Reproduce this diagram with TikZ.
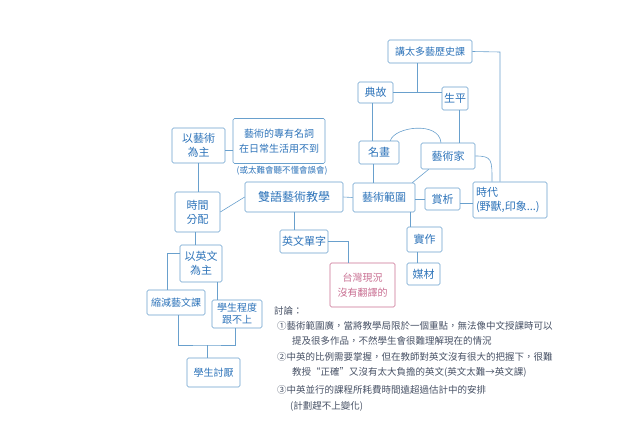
\documentclass[tikz,border=0pt]{standalone}
\usepackage{fontspec}
\newfontfamily\cjk{Noto Sans CJK TC}
\definecolor{linec}{RGB}{105,160,205}
\definecolor{inkc}{RGB}{45,115,185}
\definecolor{pinkc}{RGB}{200,110,145}
\definecolor{notec}{RGB}{70,80,100}
\tikzset{
  box/.style={draw=linec, line width=0.6pt, rounded corners=1.5pt, text=inkc, inner sep=1pt, align=center, font=\cjk\fontsize{11}{14}\selectfont},
  pinkbox/.style={box, draw=pinkc, text=pinkc},
  conn/.style={draw=linec, line width=0.6pt},
  note/.style={anchor=west, text=notec, inner sep=0pt, font=\cjk\fontsize{9.5}{11}\selectfont},
}
\begin{document}
\begin{tikzpicture}[x=1pt,y=-1pt]
\useasboundingbox (0,0) rectangle (626,447);
% nodes
\node[box, minimum width=84, minimum height=23, font=\cjk\fontsize{10}{12}\selectfont] (top) at (430,51.5) {講太多藝歷史課};
\node[box, minimum width=35, minimum height=21] (diangu) at (375.5,92.5) {典故};
\node[box, minimum width=26, minimum height=23] (sheng) at (455,98.5) {生平};
\node[box, minimum width=40, minimum height=23] (ming) at (379,152.5) {名畫};
\node[box, minimum width=54, minimum height=26] (artist) at (448,156) {藝術家};
\node[box, minimum width=62, minimum height=29] (scope) at (384,197.5) {藝術範圍};
\node[box, minimum width=35, minimum height=22] (appre) at (442.5,199) {賞析};
\node[box, minimum width=74, minimum height=36, align=left, text width=68] (era) at (510,200) {時代\\(野獸,印象...)};
\node[box, minimum width=35, minimum height=25] (prac) at (424.5,239.5) {實作};
\node[box, minimum width=33, minimum height=22] (media) at (423.5,274) {媒材};
\node[box, minimum width=98, minimum height=30, font=\cjk\fontsize{12}{14}\selectfont] (bi) at (294,197) {雙語藝術教學};
\node[box, minimum width=48, minimum height=23] (vocab) at (304,241.5) {英文單字};
\node[pinkbox, minimum width=65, minimum height=44, font=\cjk\fontsize{10}{15}\selectfont] (pink) at (362.5,285) {台灣現況\\沒有翻譯的};
\node[box, minimum width=53, minimum height=35] (artmain) at (198.5,145.5) {以藝術\\為主};
\node[box, minimum width=92, minimum height=45, font=\cjk\fontsize{10}{15}\selectfont] (terms) at (279,141) {藝術的專有名詞\\在日常生活用不到};
\node[text=inkc, inner sep=0pt, font=\cjk\fontsize{8.5}{10}\selectfont] (paren) at (282,171) {(或太難會聽不懂會誤會)};
\node[box, minimum width=45, minimum height=40] (time) at (197.5,212) {時間\\分配};
\node[box, minimum width=42, minimum height=37] (engmain) at (201,263.5) {以英文\\為主};
\node[box, minimum width=58, minimum height=25, font=\cjk\fontsize{10}{12}\selectfont] (reduce) at (176,302.5) {縮減藝文課};
\node[box, minimum width=50, minimum height=28, font=\cjk\fontsize{10}{12}\selectfont] (level) at (237,314) {學生程度\\跟不上};
\node[box, minimum width=53, minimum height=29, font=\cjk\fontsize{10}{12}\selectfont] (hate) at (213.5,372.5) {學生討厭};
% connectors
\coordinate (c1) at (500,52);
\draw[conn] (top.east) -- (c1) -- (c1 |- era.north);
\coordinate (j1) at (417,92.5);
\draw[conn] (top.south -| j1) -- (j1);
\draw[conn] (diangu.east) -- (sheng.west |- diangu.east);
\draw[conn] ([xshift=-3]diangu.south) -- ([xshift=-3]diangu.south |- ming.north);
\draw[conn] ([xshift=4]sheng.south) -- ([xshift=4]sheng.south |- artist.north);
\draw[conn] ([xshift=-9]ming.north east) .. controls +(4,-14) and +(-2,-22) .. ([xshift=-7]artist.north);
\draw[conn] (artist.east) .. controls +(17,0) and +(0,-22) .. ([xshift=-18]era.north);
\draw[conn] ([xshift=8]artist.south west) -- ([xshift=-3]scope.north east);
\draw[conn] ([xshift=-6]ming.south) -- ([xshift=-6]ming.south |- scope.north);
\draw[conn] (scope.east |- appre.west) -- (appre.west);
\draw[conn] ([yshift=-4]appre.east) -- ([yshift=-4]appre.east -| era.west);
\draw[conn] ([xshift=-14]prac.north |- scope.south) -- ([xshift=-14]prac.north);
\draw[conn] ([xshift=-7]prac.south) -- ([xshift=-7]prac.south |- media.north);
\draw[conn] (bi.east) -- (scope.west);
\draw[conn] (time.east) -- (bi.west);
\draw[conn] ([yshift=-5]artmain.east) -- ([yshift=-5]artmain.east -| terms.west);
\draw[conn] (artmain.south) -- (artmain.south |- time.north);
\draw[conn] (bi.south) -- (bi.south |- vocab.north);
\draw[conn] (vocab.east) -| ([xshift=-14]pink.north);
\draw[conn] ([xshift=-2]time.south) -- ([xshift=-2]time.south |- engmain.north);
\draw[conn] ([yshift=10]engmain.west) -| ([xshift=-9]reduce.north);
\draw[conn] ([xshift=16]engmain.south) -- ([xshift=16]engmain.south |- level.north);
\coordinate (j2) at (207,345);
\draw[conn] ([xshift=2]reduce.south) |- (j2) -| ([xshift=-2]level.south);
\draw[conn] (j2) -- (j2 |- hate.north);
% discussion
\node[note] (d0) at (274,311) {討論：};
\node[note] (d1) at (277,326) {①藝術範圍廣，當將教學局限於一個重點，無法像中文授課時可以};
\node[note] (d1b) at (292,341) {提及很多作品，不然學生會很難理解現在的情況};
\node[note] (d2) at (277,357) {②中英的比例需要掌握，但在教師對英文沒有很大的把握下，很難};
\node[note] (d2b) at (292,372) {教授“正確”又沒有太大負擔的英文(英文太難→英文課)};
\node[note] (d3) at (277,390) {③中英並行的課程所耗費時間遠超過估計中的安排};
\node[note] (d3b) at (290,406) {(計劃趕不上變化)};
\end{tikzpicture}
\end{document}
